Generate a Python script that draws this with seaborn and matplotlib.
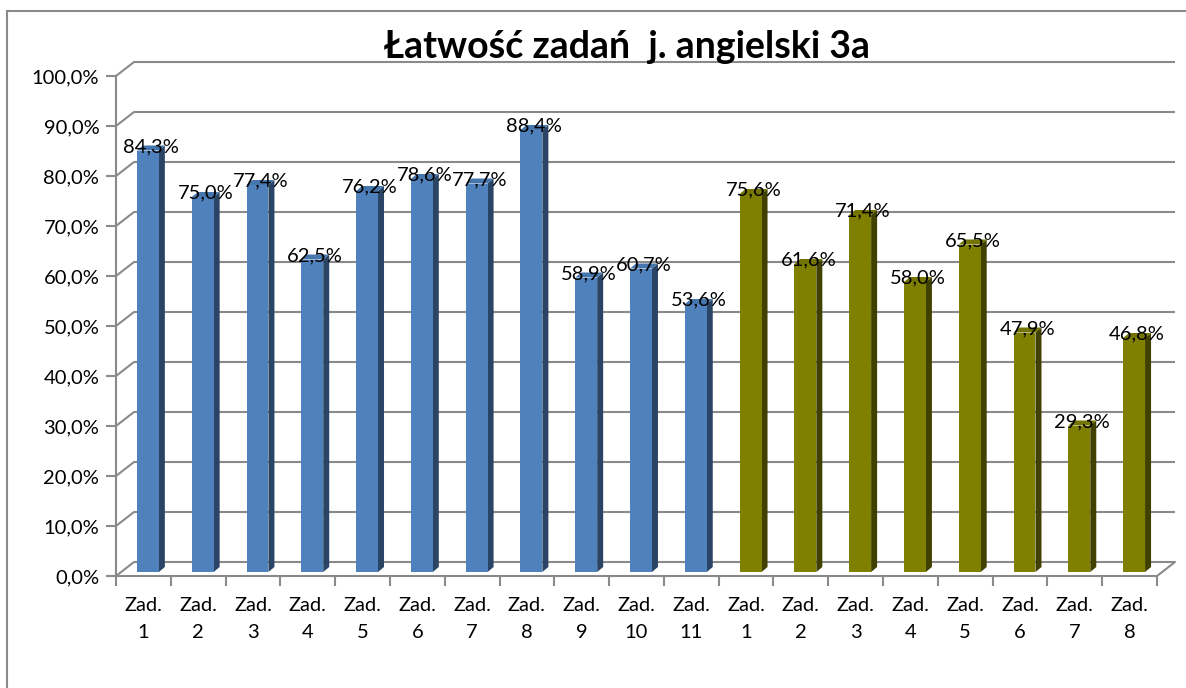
import matplotlib
matplotlib.use("Agg")
import matplotlib.pyplot as plt
import seaborn as sns
import pandas as pd
from matplotlib.patches import Polygon
from matplotlib.lines import Line2D

sns.set_theme(style="white")
plt.rcParams['font.family'] = ['Lato', 'DejaVu Sans']

title = "Łatwość zadań  j. angielski 3a"
tasks_a = ["1", "2", "3", "4", "5", "6", "7", "8", "9", "10", "11"]
values_a = [84.3, 75.0, 77.4, 62.5, 76.2, 78.6, 77.7, 88.4, 58.9, 60.7, 53.6]
tasks_b = ["1", "2", "3", "4", "5", "6", "7", "8"]
values_b = [75.6, 61.6, 71.4, 58.0, 65.5, 47.9, 29.3, 46.8]
y_ticks = [0, 10, 20, 30, 40, 50, 60, 70, 80, 90, 100]

front = {"a": "#4F81BD", "b": "#808000"}
side = {"a": "#2A4466", "b": "#404000"}
topc = {"a": "#4676AE", "b": "#747400"}
grid_c = "#8A8A8A"

W, H = 1186, 688
fig = plt.figure(figsize=(W / 100, H / 100), dpi=100)
ax = fig.add_axes([116 / W, (H - 576) / H, (1157 - 116) / W, 500 / H])

df = pd.DataFrame({
    "key": [f"a{t}" for t in tasks_a] + [f"b{t}" for t in tasks_b],
    "label": ["Zad.\n" + t for t in tasks_a + tasks_b],
    "value": values_a + values_b,
    "group": ["a"] * len(tasks_a) + ["b"] * len(tasks_b),
})

sns.barplot(data=df, x="key", y="value", hue="group", palette=front,
            dodge=False, width=0.4, legend=False, ax=ax, saturation=1,
            zorder=4, linewidth=0)

n = len(df)
ax.set_xlim(-0.5, n - 0.5)
ax.set_ylim(0, 100)
bbox = ax.get_window_extent()
ux = bbox.width / n
uy = bbox.height / 100.0

# bar depth / offset
bx, by = 4.5 / ux, 4 / uy
dx, dy = 6 / ux, 5 / uy
gx, gy = 18 / ux, 14 / uy

patches = sorted([p for p in ax.patches if p.get_height() > 0], key=lambda p: p.get_x())
for p, (_, row) in zip(patches, df.iterrows()):
    g = row["group"]
    x0 = p.get_x() + bx
    w = p.get_width()
    h = p.get_height()
    p.set_x(x0)
    p.set_y(by)
    x1 = x0 + w
    top = by + h
    ax.add_patch(Polygon([(x1, by), (x1 + dx, by + dy), (x1 + dx, top + dy), (x1, top)],
                         closed=True, facecolor=side[g], edgecolor="none", zorder=3))
    ax.add_patch(Polygon([(x0, top), (x1, top), (x1 + dx, top + dy), (x0 + dx, top + dy)],
                         closed=True, facecolor=topc[g], edgecolor="none", zorder=3))
    txt = f"{row['value']:.1f}".replace(".", ",") + "%"
    ax.text(x0 + (w + dx) / 2, top + 4 / uy, txt, ha="center", va="center",
            fontsize=14.5, color="black", zorder=6, clip_on=False)

# back wall gridlines and left wall diagonals
for v in y_ticks:
    ax.plot([-0.5 + gx, n - 0.5 + gx], [v + gy, v + gy], color=grid_c, lw=1.5,
            clip_on=False, zorder=1, solid_capstyle="butt")
    ax.plot([-0.5, -0.5 + gx], [v, v + gy], color=grid_c, lw=1.5, clip_on=False, zorder=1)
ax.plot([n - 0.5, n - 0.5 + gx], [0, gy], color=grid_c, lw=1.5, clip_on=False, zorder=1)

# axes styling
for s in ["top", "right"]:
    ax.spines[s].set_visible(False)
for s in ["left", "bottom"]:
    ax.spines[s].set_visible(True)
    ax.spines[s].set_color(grid_c)
    ax.spines[s].set_linewidth(1.5)
    ax.spines[s].set_zorder(5)
ax.set_facecolor("none")
ax.grid(False)
ax.set_xlabel("")
ax.set_ylabel("")

ax.set_yticks(y_ticks)
ax.set_yticklabels([f"{v:.1f}".replace(".", ",") + "%" for v in y_ticks], fontsize=14.5)
ax.set_xticks(range(n))
ax.set_xticklabels(df["label"], fontsize=14.5, linespacing=1.75)
ax.set_xticks([i - 0.5 for i in range(n + 1)], minor=True)
ax.tick_params(axis="y", which="major", left=True, direction="out", length=7,
               width=1.5, color=grid_c, pad=5, labelcolor="black")
ax.tick_params(axis="x", which="major", bottom=True, length=0, pad=15, labelcolor="black")
ax.tick_params(axis="x", which="minor", bottom=True, direction="out", length=7,
               width=1.5, color=grid_c)

fig.text(627 / W, 1 - 47 / H, title, ha="center", va="center", fontsize=27,
         fontweight="bold", color="black")

# outer chart border (partly cropped)
fig.add_artist(Line2D([7 / W, 7 / W], [1 - 11 / H, 0], transform=fig.transFigure,
                      color=grid_c, lw=1.5))
fig.add_artist(Line2D([7 / W, 1], [1 - 11 / H, 1 - 11 / H], transform=fig.transFigure,
                      color=grid_c, lw=1.5))

fig.savefig("out.png", dpi=100)
